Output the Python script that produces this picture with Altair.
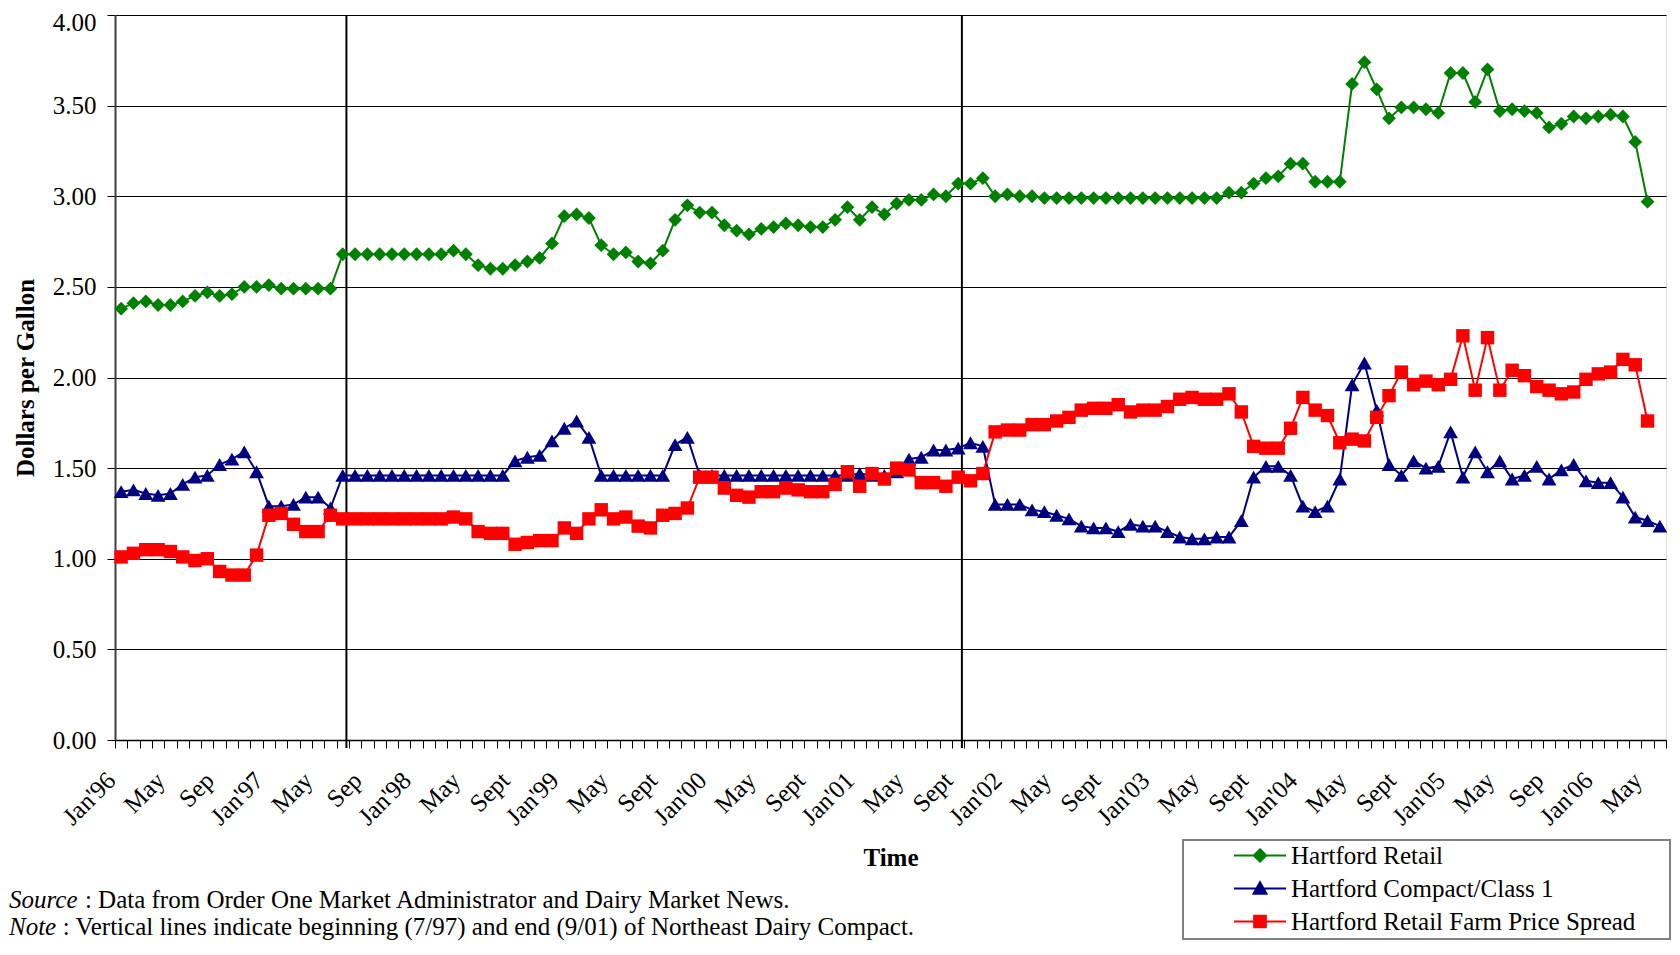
import json
import altair as alt
import pandas as pd

# ---------------- data ----------------
series_names = ["Hartford Retail", "Hartford Compact/Class 1", "Hartford Retail Farm Price Spread"]
series_colors = ["#008000", "#000080", "#FF0000"]
series_shapes = ["diamond", "triangle-up", "square"]
series_sizes = [190, 220, 180]

x_tick_labels = ["Jan'96", "May", "Sep", "Jan'97", "May", "Sep", "Jan'98", "May", "Sept",
                 "Jan'99", "May", "Sept", "Jan'00", "May", "Sept", "Jan'01", "May", "Sept",
                 "Jan'02", "May", "Sept", "Jan'03", "May", "Sept", "Jan'04", "May", "Sept",
                 "Jan'05", "May", "Sep", "Jan'06", "May"]

# monthly values, Jan 1996 onwards
retail = [
    2.38, 2.41, 2.42, 2.40, 2.40, 2.42, 2.45, 2.47, 2.45, 2.46, 2.50, 2.50,
    2.51, 2.49, 2.49, 2.49, 2.49, 2.49, 2.68, 2.68, 2.68, 2.68, 2.68, 2.68,
    2.68, 2.68, 2.68, 2.70, 2.68, 2.62, 2.60, 2.60, 2.62, 2.64, 2.66, 2.74,
    2.89, 2.90, 2.88, 2.73, 2.68, 2.69, 2.64, 2.63, 2.70, 2.87, 2.95, 2.91,
    2.91, 2.84, 2.81, 2.79, 2.82, 2.83, 2.85, 2.84, 2.83, 2.83, 2.87, 2.94,
    2.87, 2.94, 2.90, 2.96, 2.98, 2.98, 3.01, 3.00, 3.07, 3.07, 3.10, 3.00,
    3.01, 3.00, 3.00, 2.99, 2.99, 2.99, 2.99, 2.99, 2.99, 2.99, 2.99, 2.99,
    2.99, 2.99, 2.99, 2.99, 2.99, 2.99, 3.02, 3.02, 3.07, 3.10, 3.11, 3.18,
    3.18, 3.08, 3.08, 3.08, 3.62, 3.74, 3.59, 3.43, 3.49, 3.49, 3.48, 3.46,
    3.68, 3.68, 3.52, 3.70, 3.47, 3.48, 3.47, 3.46, 3.38, 3.40, 3.44, 3.43,
    3.44, 3.45, 3.44, 3.30, 2.97,
]

compact = [
    1.37, 1.38, 1.36, 1.35, 1.36, 1.41, 1.45, 1.46, 1.52, 1.55, 1.59, 1.48,
    1.29, 1.29, 1.30, 1.34, 1.34, 1.28, 1.46, 1.46, 1.46, 1.46, 1.46, 1.46,
    1.46, 1.46, 1.46, 1.46, 1.46, 1.46, 1.46, 1.46, 1.54, 1.56, 1.57, 1.65,
    1.72, 1.76, 1.67, 1.46, 1.46, 1.46, 1.46, 1.46, 1.46, 1.63, 1.67, 1.46,
    1.46, 1.46, 1.46, 1.46, 1.46, 1.46, 1.46, 1.46, 1.46, 1.46, 1.46, 1.46,
    1.47, 1.46, 1.46, 1.48, 1.55, 1.56, 1.60, 1.60, 1.61, 1.64, 1.62, 1.30,
    1.30, 1.30, 1.27, 1.26, 1.24, 1.22, 1.18, 1.17, 1.17, 1.15, 1.19, 1.18,
    1.18, 1.15, 1.12, 1.11, 1.11, 1.12, 1.12, 1.21, 1.45, 1.51, 1.51, 1.46,
    1.29, 1.26, 1.29, 1.44, 1.96, 2.08, 1.82, 1.52, 1.46, 1.54, 1.50, 1.51,
    1.70, 1.45, 1.59, 1.48, 1.54, 1.44, 1.46, 1.51, 1.44, 1.49, 1.52, 1.43,
    1.42, 1.42, 1.34, 1.23, 1.21, 1.18,
]

spread = [
    1.01, 1.03, 1.05, 1.05, 1.04, 1.01, 0.99, 1.00, 0.93, 0.91, 0.91, 1.02,
    1.24, 1.25, 1.19, 1.15, 1.15, 1.24, 1.22, 1.22, 1.22, 1.22, 1.22, 1.22,
    1.22, 1.22, 1.22, 1.23, 1.22, 1.15, 1.14, 1.14, 1.08, 1.09, 1.10, 1.10,
    1.17, 1.14, 1.22, 1.27, 1.22, 1.23, 1.18, 1.17, 1.24, 1.25, 1.28, 1.45,
    1.45, 1.39, 1.35, 1.34, 1.37, 1.37, 1.39, 1.38, 1.37, 1.37, 1.41, 1.48,
    1.40, 1.47, 1.44, 1.50, 1.49, 1.42, 1.42, 1.40, 1.45, 1.43, 1.47, 1.70,
    1.71, 1.71, 1.74, 1.74, 1.76, 1.78, 1.82, 1.83, 1.83, 1.85, 1.81, 1.82,
    1.82, 1.84, 1.88, 1.89, 1.88, 1.88, 1.91, 1.81, 1.62, 1.61, 1.61, 1.72,
    1.89, 1.82, 1.79, 1.64, 1.66, 1.65, 1.78, 1.90, 2.03, 1.96, 1.98, 1.96,
    1.99, 2.23, 1.93, 2.22, 1.93, 2.04, 2.01, 1.95, 1.93, 1.91, 1.92, 1.99,
    2.02, 2.03, 2.10, 2.07, 1.76,
]

# months (index from Jan'96) where the Compact lines sit: July 1997 and September 2001
compact_lines = [18.8, 68.8]
n_months = 126

source_word = "Source"
source_text = ": Data from Order One Market Administrator and Dairy Market News."
note_word = "Note"
note_text = ": Vertical lines indicate beginning (7/97) and end (9/01) of Northeast Dairy Compact."

# ---------------- table ----------------
rows = []
for name, vals in zip(series_names, [retail, compact, spread]):
    for i, v in enumerate(vals):
        rows.append({"month": i, "series": name, "value": v})
df = pd.DataFrame(rows)

FONT = "Liberation Serif"

xs = alt.Scale(domain=[0, n_months], nice=False, zero=False)
ys = alt.Scale(domain=[0, 4], nice=False, zero=True)

label_expr = ("datum.value % 4 === 0 ? " + json.dumps(x_tick_labels) +
              "[datum.value / 4] : ''")

x_axis = alt.Axis(
    values=list(range(0, n_months + 1)), labelExpr=label_expr,
    labelAngle=315, labelAlign="right", labelBaseline="middle",
    labelPadding=28, labelOffset=-4, labelOverlap=False, labelBound=False, labelFlush=False,
    labelFont=FONT, labelFontSize=25, labelColor="black",
    tickSize=8, tickColor="black", tickWidth=1,
    domainColor="black", domainWidth=1.5, grid=False,
    title="Time", titleFont=FONT, titleFontSize=25, titleFontWeight="bold",
    titleColor="black", titleY=117, titleBaseline="middle",
)
y_axis = alt.Axis(
    values=[0, 0.5, 1.0, 1.5, 2.0, 2.5, 3.0, 3.5, 4.0], format=".2f",
    labelFont=FONT, labelFontSize=25, labelColor="black", labelPadding=11,
    labelOffset={"condition": {"test": "datum.value === 4", "value": 7}, "value": 0},
    tickSize=8, tickColor="black", tickWidth=1,
    domainColor="#404040", domainWidth=2,
    grid=True, gridColor="black", gridWidth=1,
    title="Dollars per Gallon", titleFont=FONT, titleFontSize=25, titleFontWeight="bold",
    titleColor="black", titleX=-90, titleY=362.5, titleAngle=270,
    titleAlign="center", titleBaseline="middle",
)

X = alt.X("xpos:Q", scale=xs, axis=x_axis)
Y = alt.Y("value:Q", scale=ys, axis=y_axis)

base = alt.Chart(df).transform_calculate(xpos="datum.month + 0.5")

# legend frame
frame = alt.Chart(pd.DataFrame({"k": [0]})).mark_rect(
    fill="white", stroke="#808080", strokeWidth=2
).encode(x=alt.value(1068), x2=alt.value(1555), y=alt.value(825), y2=alt.value(924))

# vertical compact lines
rules = alt.Chart(pd.DataFrame({"xpos": compact_lines})).mark_rule(
    color="black", strokeWidth=2
).encode(x=X, y=alt.value(0), y2=alt.value(733))

layers = [frame, rules]
for name, color, shape, size in zip(series_names, series_colors, series_shapes, series_sizes):
    sub = base.transform_filter(alt.datum.series == name)
    layers.append(sub.mark_line(color=color, strokeWidth=2).encode(x=X, y=Y))
    layers.append(sub.mark_point(shape=shape, filled=True, color=color, size=size,
                                 opacity=1, strokeWidth=0).encode(x=X, y=Y))

# legend (built from scales; no marks drawn)
legend_paths = [
    "M-4,0H4M0,-0.95L0.95,0L0,0.95L-0.95,0Z",
    "M-4,0H4M0,-0.95L1,0.8L-1,0.8Z",
    "M-4,0H4M-0.9,-0.9H0.9V0.9H-0.9Z",
]
leg = alt.Legend(
    orient="none", legendX=1132.5, legendY=828, title=None, direction="vertical",
    labelFont=FONT, labelFontSize=25, labelColor="black", labelLimit=1000,
    symbolSize=169, symbolStrokeWidth=2, labelOffset=18.5, symbolOffset=0,
    rowPadding=7, padding=0,
)
legend_layer = base.transform_filter("datum.value < 0").mark_point(
    filled=True, strokeWidth=2, opacity=1
).encode(
    x=X, y=Y,
    fill=alt.Fill("series:N", scale=alt.Scale(domain=series_names, range=series_colors), legend=leg),
    stroke=alt.Stroke("series:N", scale=alt.Scale(domain=series_names, range=series_colors), legend=leg),
    shape=alt.Shape("series:N", scale=alt.Scale(domain=series_names, range=legend_paths), legend=leg),
)
layers.append(legend_layer)

NOTE_X = -106


def note(word, text, word_width, y):
    w = alt.Chart(pd.DataFrame({"t": [word]})).mark_text(
        font=FONT, fontSize=25, fontStyle="italic", align="left", baseline="alphabetic", color="black"
    ).encode(text="t:N", x=alt.value(NOTE_X), y=alt.value(y))
    t = alt.Chart(pd.DataFrame({"t": [text]})).mark_text(
        font=FONT, fontSize=25, align="left", baseline="alphabetic", color="black"
    ).encode(text="t:N", x=alt.value(NOTE_X + word_width + 6.5), y=alt.value(y))
    return [w, t]


layers += note(source_word, source_text, 69.4, 893)
layers += note(note_word, note_text, 47.2, 920)

chart = alt.layer(*layers).properties(
    width=1551, height=725,
    padding={"left": 107, "top": 7, "right": 6, "bottom": 201},
    autosize=alt.AutoSizeParams(type="none"),
).configure_view(stroke="#808080", strokeWidth=2).configure(background="white")

chart.save("out.html", embed_options={"renderer": "svg", "actions": False})
